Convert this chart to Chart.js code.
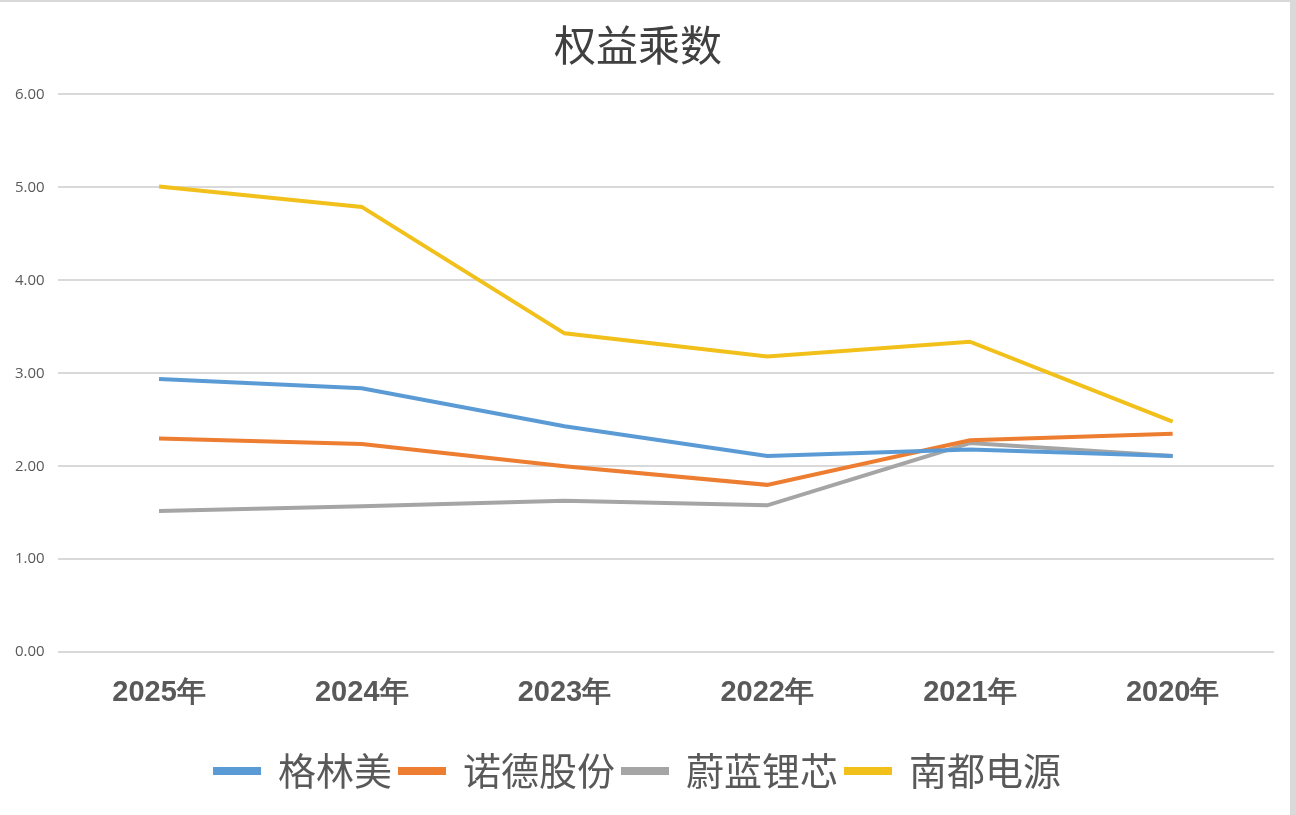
<!DOCTYPE html>
<html>
<head>
<meta charset="utf-8">
<script src="https://cdn.jsdelivr.net/npm/chart.js@4"></script>
<style>
  html, body { margin: 0; padding: 0; background: #fff; }
  #wrap { width: 1296px; height: 815px; position: relative; box-sizing: border-box; border-top: 2px solid #d9d9d9; border-right: 6px solid #d9d9d9; }
</style>
</head>
<body>
<div id="wrap"><canvas id="lineChart"></canvas></div>
<script>
const lineChart = document.getElementById("lineChart");

// Data

const years = ["2025年", "2024年", "2023年", "2022年", "2021年", "2020年"];
const gelinmei = [2.94, 2.84, 2.43, 2.11, 2.18, 2.11];
const nuode = [2.30, 2.24, 2.00, 1.80, 2.28, 2.35];
const weilan = [1.52, 1.57, 1.63, 1.58, 2.25, 2.11];
const nandu = [5.01, 4.79, 3.43, 3.18, 3.34, 2.48];

const cjk = "'Noto Sans CJK SC', 'Noto Sans', sans-serif";

function series(label, data, color) {
  return {
    label: label,
    data: data,
    borderColor: color,
    backgroundColor: color,
    borderWidth: 4,
    pointRadius: 0,
    tension: 0,
  };
}

let lineConfig = {
  type: "line",
  data: {
    labels: years,
    datasets: [
      series("格林美", gelinmei, "#5b9bd5"),
      series("诺德股份", nuode, "#ed7d31"),
      series("蔚蓝锂芯", weilan, "#a5a5a5"),
      series("南都电源", nandu, "#f2c01a"),
    ],
  },
  options: {
    responsive: true,
    maintainAspectRatio: false,
    animation: false,
    layout: {
      padding: { left: 2, right: 16, top: 8, bottom: 15 },
    },
    plugins: {
      title: {
        display: true,
        text: "权益乘数",
        color: "#404040",
        font: { family: cjk, size: 42, weight: "normal" },
        padding: { top: 10, bottom: 24 },
      },
      legend: {
        position: "bottom",
        labels: {
          color: "#595959",
          font: { family: cjk, size: 38 },
          boxWidth: 44,
          boxHeight: 4,
          padding: 8,
        },
      },
      tooltip: { enabled: false },
    },
    scales: {
      x: {
        offset: true,
        grid: { display: false },
        border: { display: false },
        afterFit: (s) => { s.height += 19; },
        ticks: {
          color: "#595959",
          font: { family: "'Liberation Sans', sans-serif", size: 29, weight: "bold" },
          padding: 15,
        },
      },
      y: {
        min: 0,
        max: 6,
        grid: { color: "#d9d9d9", lineWidth: 2, drawTicks: false },
        border: { display: false },
        ticks: {
          stepSize: 1,
          color: "#595959",
          font: { family: "'Open Sans', sans-serif", size: 15 },
          padding: 13,
          callback: (v) => v.toFixed(2),
        },
      },
    },
  },
};

const chart = new Chart(lineChart, lineConfig);
</script>
</body>
</html>
